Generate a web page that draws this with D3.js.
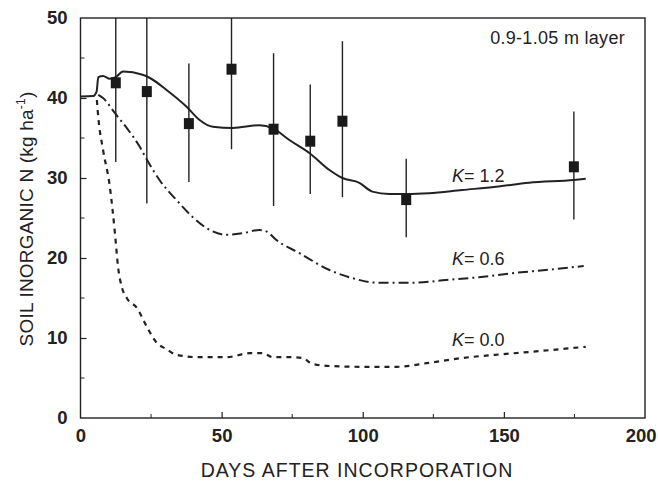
<!DOCTYPE html>
<html>
<head>
<meta charset="utf-8">
<script src="https://cdn.jsdelivr.net/npm/d3@7"></script>
<style>
  body { margin: 0; background: #fff; }
  svg text { font-family: "Liberation Sans", Arial, Helvetica, sans-serif; fill: #222; }
</style>
</head>
<body>
<svg id="chart" width="658" height="486"></svg>
<script>
// Measured soil inorganic N (0.9-1.05 m layer): day, mean, error bar low/high
const obsDays = [12.5, 23.5, 38.4, 53.5, 68.4, 81.4, 92.8, 115.4, 174.8];
const obsMean = [41.9, 40.8, 36.8, 43.6, 36.1, 34.6, 37.1, 27.3, 31.4];
const obsLow  = [32.0, 26.8, 29.5, 33.6, 26.5, 28.0, 27.6, 22.6, 24.8];
const obsHigh = [50.0, 50.0, 44.3, 50.0, 45.6, 41.7, 47.1, 32.4, 38.3];

// Simulated curves for three K values
const k12Days = [0, 4.5, 5.7, 6.3, 8, 10.4, 12.5, 15.1, 22, 24.6, 30.5, 37.6, 42.2, 46.9, 54, 63.4, 68.2, 74, 81.2, 88.2, 92.8, 98.8, 103.4, 109.4, 115.4, 123.5, 135.2, 147.2, 158.9, 174.8, 179];
const k12Vals = [40.2, 40.25, 40.8, 42.6, 42.75, 42.4, 42.6, 43.3, 42.9, 42.5, 41.0, 38.9, 37.25, 36.4, 36.25, 36.6, 36.2, 34.75, 33.1, 31.0, 30.0, 29.4, 28.3, 28.0, 28.0, 28.1, 28.5, 28.9, 29.4, 29.75, 29.9];

const k06Days = [6.3, 8, 12.2, 16.4, 21, 24, 28, 34, 39.8, 45.8, 51.8, 57.5, 63.4, 66, 69.4, 77.6, 88.2, 95.2, 105.8, 117.5, 129.5, 141.2, 152.9, 164.8, 178.3];
const k06Vals = [40.4, 40.0, 38.1, 36.25, 33.9, 32.0, 29.75, 27.25, 25.1, 23.5, 22.9, 23.1, 23.5, 23.3, 22.25, 20.6, 18.5, 17.6, 16.9, 16.9, 17.25, 17.6, 18.1, 18.5, 19.0];

const k00Days = [5.8, 6.3, 8, 10.4, 12.2, 13.3, 14.6, 16.4, 20, 23.5, 27, 30.5, 34, 42.2, 51.8, 59.9, 64.6, 68.2, 75.2, 78.7, 82.2, 88.2, 100, 111.8, 123.5, 135.2, 147, 158.9, 179];
const k00Vals = [39.75, 37.6, 33.5, 28.9, 23.1, 18.9, 16.4, 15.0, 13.75, 11.4, 9.4, 8.6, 7.9, 7.6, 7.6, 8.1, 8.1, 7.6, 7.6, 7.5, 6.75, 6.5, 6.4, 6.4, 6.9, 7.5, 7.9, 8.25, 8.9];

const curveLabels = ["1.2", "0.6", "0.0"];
const labelAt = [[131.6, 29.5], [131.6, 19.1], [131.6, 9.0]];

const xTicks = [0, 50, 100, 150, 200];
const xMinor = [25, 75, 125, 175];
const yTicks = [0, 10, 20, 30, 40, 50];
const yMinor = [5, 15, 25, 35, 45];

const ink = "#222";
const svg = d3.select("#chart");
const mLeft = 80.5, mRight = 645, mTop = 18, mBottom = 418;

const x = d3.scaleLinear().domain([0, 200]).range([mLeft, mRight]);
const y = d3.scaleLinear().domain([0, 50]).range([mBottom, mTop]);

// Frame
svg.append("rect")
  .attr("x", mLeft).attr("y", mTop)
  .attr("width", mRight - mLeft).attr("height", mBottom - mTop)
  .attr("fill", "none").attr("stroke", ink).attr("stroke-width", 1.4);

// Axes with inward ticks
const xAxis = svg.append("g").attr("transform", `translate(0,${mBottom})`)
  .call(d3.axisBottom(x).tickValues(xTicks).tickSize(-6).tickPadding(11).tickFormat(d3.format("d")));
const yAxis = svg.append("g").attr("transform", `translate(${mLeft},0)`)
  .call(d3.axisLeft(y).tickValues(yTicks).tickSize(-6).tickPadding(13).tickFormat(d3.format("d")));
[xAxis, yAxis].forEach(g => {
  g.select(".domain").remove();
  g.selectAll("line").attr("stroke", ink).attr("stroke-width", 1.2);
  g.selectAll("text").style("font-size", "18.5px").style("font-weight", "bold").attr("fill", "#333");
});
xAxis.selectAll(".tick").filter(d => d === 0 || d === 200).select("line").remove();
yAxis.selectAll(".tick").filter(d => d === 0 || d === 50).select("line").remove();
// keep the last x label inside the page edge
xAxis.selectAll(".tick").filter(d => d === 200).select("text")
  .attr("text-anchor", "end").attr("x", 11);

// Minor ticks
svg.append("g").selectAll("line").data(xMinor).join("line")
  .attr("x1", d => x(d)).attr("x2", d => x(d))
  .attr("y1", mBottom).attr("y2", mBottom - 4)
  .attr("stroke", ink).attr("stroke-width", 1);
svg.append("g").selectAll("line").data(yMinor).join("line")
  .attr("x1", mLeft).attr("x2", mLeft + 4)
  .attr("y1", d => y(d)).attr("y2", d => y(d))
  .attr("stroke", ink).attr("stroke-width", 1);

// Curves
const line = d3.line().x(d => x(d[0])).y(d => y(d[1])).curve(d3.curveMonotoneX);
const zip = (a, b) => a.map((d, i) => [d, b[i]]);
const series = [
  { pts: zip(k12Days, k12Vals), dash: null, w: 2 },
  { pts: zip(k06Days, k06Vals), dash: "10,4,2,4", w: 2 },
  { pts: zip(k00Days, k00Vals), dash: "5,5", w: 2.2 }
];
svg.append("g").selectAll("path").data(series).join("path")
  .attr("d", d => line(d.pts))
  .attr("fill", "none").attr("stroke", ink)
  .attr("stroke-width", d => d.w)
  .attr("stroke-dasharray", d => d.dash);

// Error bars and squares
const obs = obsDays.map((d, i) => ({ d, m: obsMean[i], lo: obsLow[i], hi: obsHigh[i] }));
svg.append("g").selectAll("line").data(obs).join("line")
  .attr("x1", d => x(d.d)).attr("x2", d => x(d.d))
  .attr("y1", d => y(d.lo)).attr("y2", d => y(d.hi))
  .attr("stroke", ink).attr("stroke-width", 1.4);
svg.append("g").selectAll("rect").data(obs).join("rect")
  .attr("x", d => x(d.d) - 5).attr("y", d => y(d.m) - 5.5)
  .attr("width", 10).attr("height", 11)
  .attr("fill", "#1a1a1a");

// Curve labels
const lbl = svg.append("g").selectAll("text").data(curveLabels).join("text")
  .attr("x", (d, i) => x(labelAt[i][0]))
  .attr("y", (d, i) => y(labelAt[i][1]))
  .style("font-size", "18px");
lbl.append("tspan").attr("font-style", "italic").text("K");
lbl.append("tspan").text(d => "= " + d);

// Layer annotation
svg.append("text").attr("x", 625).attr("y", 44)
  .attr("text-anchor", "end").style("font-size", "18px")
  .style("letter-spacing", "0.3px").text("0.9-1.05 m layer");

// Axis titles
svg.append("text").attr("x", 357).attr("y", 477)
  .attr("text-anchor", "middle").style("font-size", "19.5px")
  .style("letter-spacing", "1px").text("DAYS AFTER INCORPORATION");
const yt = svg.append("text")
  .attr("transform", "translate(33,219) rotate(-90)")
  .attr("text-anchor", "middle").style("font-size", "19px")
  .style("letter-spacing", "0.2px");
yt.append("tspan").text("SOIL INORGANIC N (kg ha");
yt.append("tspan").attr("dy", -8).style("font-size", "12px").text("-1");
yt.append("tspan").attr("dy", 8).text(")");
</script>
</body>
</html>
